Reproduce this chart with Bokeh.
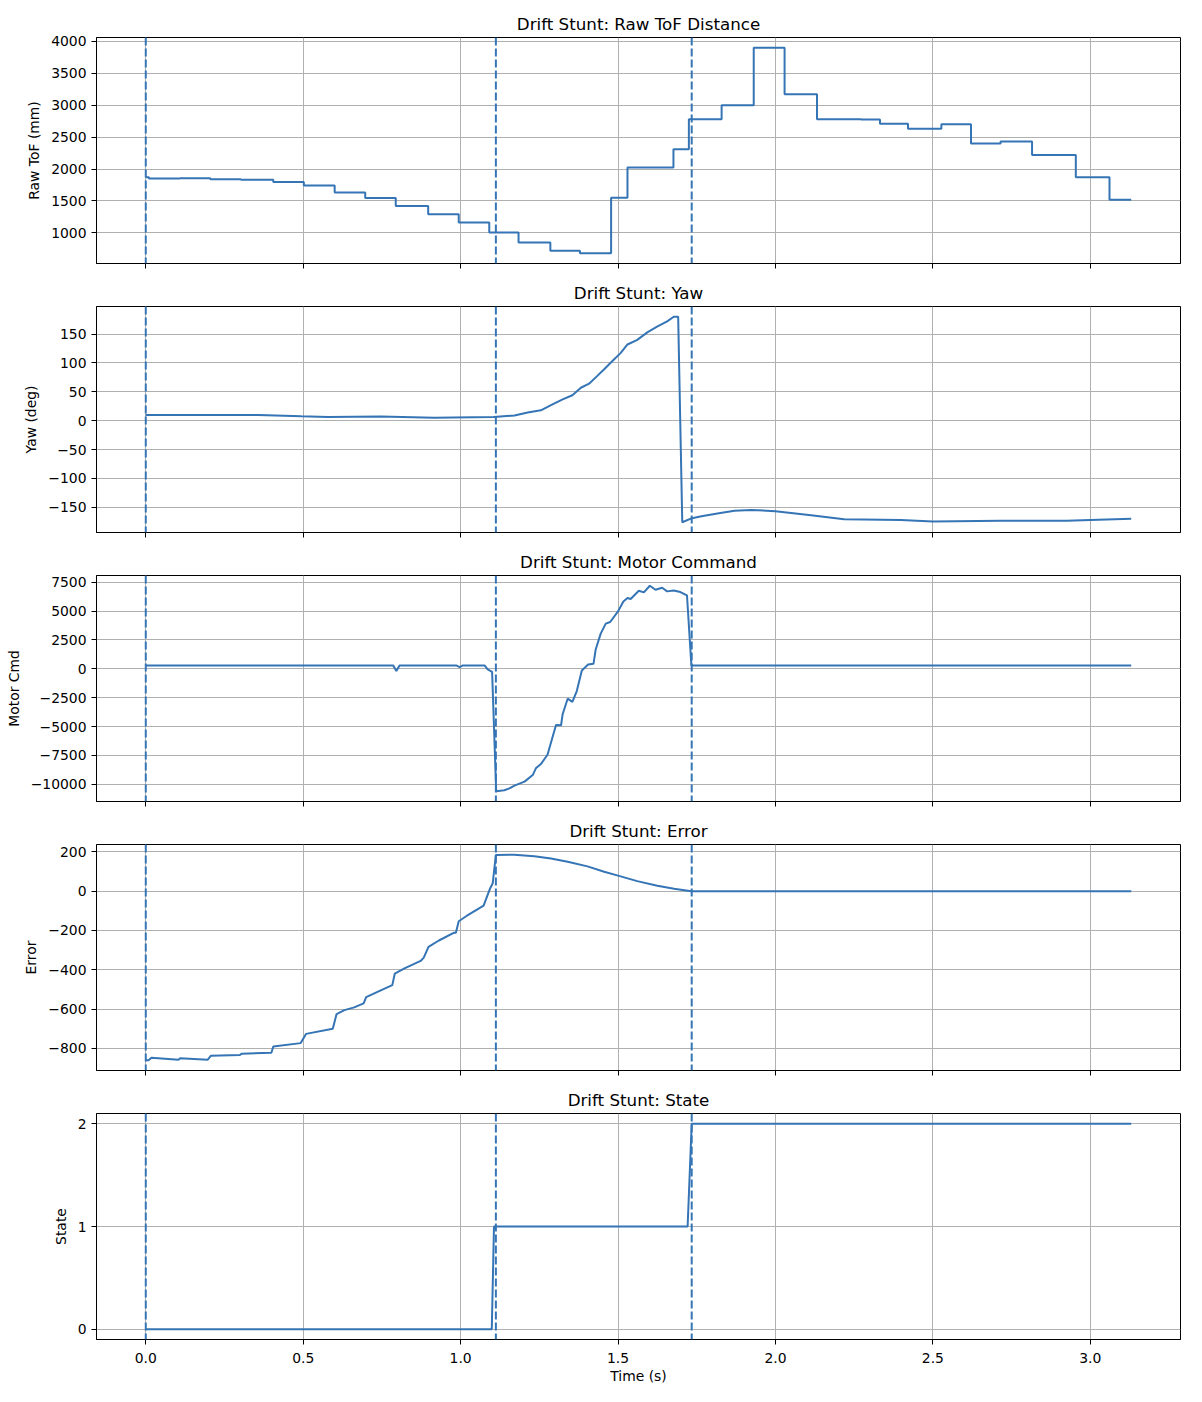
import numpy as np
from bokeh.plotting import figure
from bokeh.models import Span, Range1d, FixedTicker, CustomJSTickFormatter
from bokeh.layouts import column
from bokeh.embed import file_html
from bokeh.resources import INLINE

# phase changes (s)
phase_t = [0.0, 1.112, 1.734]

# raw ToF distance (mm), held between samples
tof_t = [0.0, 0.01, 0.108, 0.205, 0.302, 0.405, 0.502, 0.600, 0.697, 0.794, 0.897, 0.994,
         1.091, 1.184, 1.285, 1.379, 1.478, 1.530, 1.676, 1.725, 1.829, 1.931, 2.029, 2.132,
         2.272, 2.332, 2.421, 2.527, 2.621, 2.715, 2.815, 2.954, 3.061, 3.13]
tof_mm = [1870, 1850, 1855, 1840, 1830, 1795, 1740, 1630, 1545, 1420, 1290, 1160,
          1005, 850, 720, 680, 1550, 2025, 2310, 2780, 3000, 3900, 3170, 2780,
          2775, 2710, 2630, 2700, 2400, 2430, 2220, 1870, 1520, 1520]

# yaw (deg)
yaw_t = [0.0, 0.167, 0.357, 0.494, 0.578, 0.747, 0.916, 1.105, 1.171, 1.213, 1.255, 1.287,
         1.324, 1.355, 1.382, 1.408, 1.435, 1.456, 1.487, 1.508, 1.530, 1.561, 1.593, 1.624,
         1.656, 1.677, 1.691, 1.704, 1.735, 1.765, 1.825, 1.870, 1.923, 2.0, 2.113, 2.218,
         2.398, 2.5, 2.714, 2.925, 3.0, 3.13]
yaw_deg = [10.0, 9.6, 10.0, 7.5, 6.3, 7.2, 5.2, 6.3, 9, 14, 18, 27,
           37, 44, 57, 64, 78, 89, 106, 117, 132, 140, 153, 163,
           172, 180, 180, -176, -169, -165.5, -160, -156, -154.6, -157, -164, -171,
           -172, -174.7, -173.6, -173.6, -172, -170]

# motor command
mot_t = [0.0, 0.786, 0.796, 0.806, 0.986, 0.997, 1.007, 1.076, 1.086, 1.100, 1.113, 1.139,
         1.155, 1.171, 1.203, 1.229, 1.239, 1.255, 1.276, 1.303, 1.319, 1.324, 1.340, 1.355,
         1.369, 1.385, 1.405, 1.422, 1.429, 1.445, 1.461, 1.475, 1.500, 1.517, 1.530, 1.540,
         1.566, 1.582, 1.601, 1.619, 1.640, 1.656, 1.677, 1.698, 1.719, 1.733, 3.13]
mot_cmd = [287, 287, -200, 287, 287, 144, 287, 287, -60, -260, -10600, -10520,
           -10350, -10115, -9770, -9200, -8620, -8250, -7440, -4860, -4890, -3940, -2590, -2870,
           -1925, -144, 374, 431, 1667, 3046, 3908, 4050, 4970, 5830, 6120, 6035,
           6750, 6610, 7185, 6840, 7010, 6700, 6780, 6640, 6350, 287, 287]

# error
err_t = [0.0, 0.009, 0.018, 0.104, 0.109, 0.197, 0.207, 0.299, 0.304, 0.399, 0.405, 0.492,
         0.509, 0.594, 0.606, 0.631, 0.662, 0.692, 0.700, 0.736, 0.783, 0.791, 0.820, 0.873,
         0.883, 0.898, 0.931, 0.978, 0.985, 0.994, 1.020, 1.052, 1.073, 1.094, 1.102, 1.112,
         1.170, 1.234, 1.287, 1.340, 1.403, 1.456, 1.500, 1.561, 1.625, 1.678, 1.733, 3.13]
err_val = [-860, -860, -847, -857, -850, -857, -837, -834, -827, -822, -790, -773,
           -726, -700, -625, -605, -591, -571, -539, -512, -478, -419, -394, -355,
           -338, -283, -251, -212, -212, -153, -125, -94, -74, 15, 40, 184,
           185, 178, 166, 150, 126, 99, 79, 51, 27, 12, 0, 0]

# state
state_t = [0.0, 1.099, 1.106, 1.721, 1.734, 3.13]
state_val = [0, 0, 1, 1, 2, 2]

time_ticks = [0.0, 0.5, 1.0, 1.5, 2.0, 2.5, 3.0]

BLUE = "#3575b5"
FONT = "DejaVu Sans"

tmin, tmax = 0.0, max(tof_t[-1], yaw_t[-1], mot_t[-1], err_t[-1], state_t[-1])
pad = (tmax - tmin) * 0.05
x_range = Range1d(tmin - pad, tmax + pad)

minus_fmt = CustomJSTickFormatter(code="return tick.toString().replace('-', '\u2212');")


def make_panel(title, ylabel, t, y, yticks, last=False, step=False):
    lo, hi = min(y), max(y)
    m = (hi - lo) * 0.05
    p = figure(frame_width=1084, frame_height=226, x_range=x_range,
               y_range=Range1d(lo - m, hi + m), output_backend="svg",
               toolbar_location=None, tools="",
               min_border_left=96, min_border_right=20, min_border_top=37,
               min_border_bottom=50 if last else 6)
    p.title.text = title
    p.title.align = "center"
    p.title.text_font = FONT
    p.title.text_font_size = "16.7px"
    p.title.text_font_style = "normal"
    p.title.text_color = "black"
    p.title.standoff = 7

    if step:
        p.step(t, y, mode="after", line_color=BLUE, line_width=2)
    else:
        p.line(t, y, line_color=BLUE, line_width=2)

    for pt in phase_t:
        p.add_layout(Span(location=pt, dimension="height", line_color=BLUE,
                          line_width=2, line_dash="8 3"))

    p.outline_line_color = "black"
    p.outline_line_width = 1
    p.grid.grid_line_color = "#b0b0b0"
    p.grid.grid_line_width = 1

    p.yaxis.ticker = FixedTicker(ticks=yticks)
    p.yaxis.formatter = minus_fmt
    p.yaxis.axis_label = ylabel
    p.xaxis.ticker = FixedTicker(ticks=time_ticks)
    p.xaxis.formatter = CustomJSTickFormatter(code="return tick.toFixed(1);")
    for ax in (p.xaxis, p.yaxis):
        ax.axis_line_color = "black"
        ax.major_tick_line_color = "black"
        ax.major_tick_out = 5
        ax.major_tick_in = 0
        ax.minor_tick_line_color = None
        ax.major_label_text_font = FONT
        ax.major_label_text_font_size = "13.9px"
        ax.major_label_text_color = "black"
        ax.major_label_standoff = 5
        ax.axis_label_text_font = FONT
        ax.axis_label_text_font_size = "13.9px"
        ax.axis_label_text_font_style = "normal"
        ax.axis_label_text_color = "black"
        ax.axis_label_standoff = 6
    if last:
        p.xaxis.axis_label = "Time (s)"
        p.xaxis.major_label_standoff = 8
        p.xaxis.axis_label_standoff = 2
    else:
        # shared x: ticks only, no labels
        p.xaxis.major_label_text_color = None
        p.xaxis.major_label_text_font_size = "1px"
        p.xaxis.major_label_standoff = 0
    return p


p1 = make_panel("Drift Stunt: Raw ToF Distance", "Raw ToF (mm)", tof_t, tof_mm,
                [1000, 1500, 2000, 2500, 3000, 3500, 4000], step=True)
p2 = make_panel("Drift Stunt: Yaw", "Yaw (deg)", yaw_t, yaw_deg,
                [-150, -100, -50, 0, 50, 100, 150])
p3 = make_panel("Drift Stunt: Motor Command", "Motor Cmd", mot_t, mot_cmd,
                [-10000, -7500, -5000, -2500, 0, 2500, 5000, 7500])
p4 = make_panel("Drift Stunt: Error", "Error", err_t, err_val,
                [-800, -600, -400, -200, 0, 200])
p5 = make_panel("Drift Stunt: State", "State", state_t, state_val, [0, 1, 2], last=True)

layout = column(p1, p2, p3, p4, p5)

open("out.html", "w").write(file_html(layout, INLINE))
